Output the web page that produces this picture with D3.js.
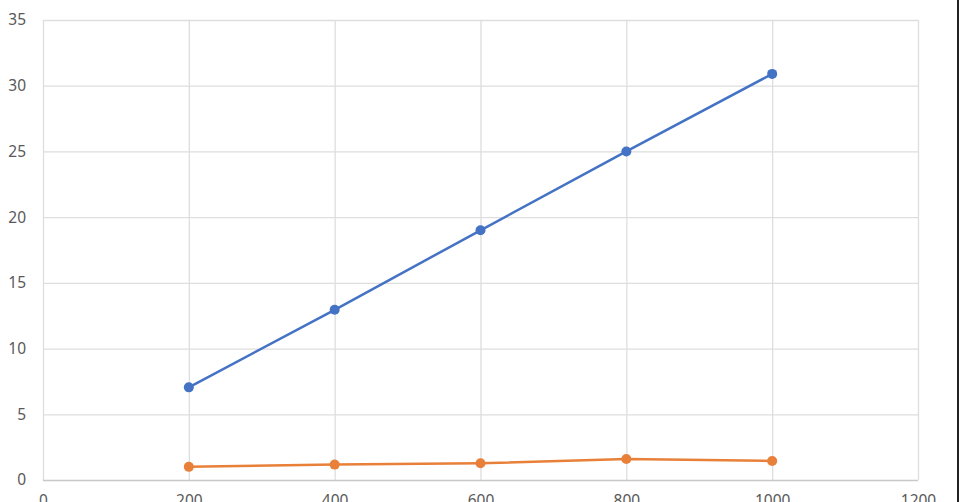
<!DOCTYPE html>
<html><head><meta charset="utf-8">
<script src="https://cdn.jsdelivr.net/npm/d3@7"></script>
<style>html,body{margin:0;padding:0;background:#fff;overflow:hidden}</style>
</head><body>
<svg id="c" width="960" height="502"></svg>
<script>
const xValues = [200, 400, 600, 800, 1000];
const seriesBlue = [7.05, 12.95, 19.0, 25.0, 30.9];
const seriesOrange = [1.0, 1.17, 1.27, 1.6, 1.45];
const xTicks = [0, 200, 400, 600, 800, 1000, 1200];
const yTicks = [0, 5, 10, 15, 20, 25, 30, 35];

const svg = d3.select('#c');
const m = {l: 43, r: 918, t: 20, b: 480};
const x = d3.scaleLinear().domain([0, 1200]).range([m.l, m.r]);
const y = d3.scaleLinear().domain([0, 35]).range([m.b, m.t]);
const font = "'Noto Sans', 'Open Sans', sans-serif";

// grid
svg.append('g').selectAll('line').data(yTicks.filter(d => d > 0)).join('line')
  .attr('x1', m.l).attr('x2', m.r).attr('y1', d => y(d) + 0.5).attr('y2', d => y(d) + 0.5)
  .attr('stroke', '#dedede').attr('stroke-width', 1.3);
svg.append('g').selectAll('line').data(xTicks).join('line')
  .attr('y1', m.t).attr('y2', m.b).attr('x1', d => x(d) + 0.5).attr('x2', d => x(d) + 0.5)
  .attr('stroke', '#dedede').attr('stroke-width', 1.3);
// bottom axis line
svg.append('line').attr('x1', m.l).attr('x2', m.r).attr('y1', y(0) + 0.5).attr('y2', y(0) + 0.5)
  .attr('stroke', '#c8c8c8').attr('stroke-width', 1.5);

// axes labels
const yAxis = d3.axisLeft(y).tickValues(yTicks).tickSize(0).tickPadding(17).tickFormat(d3.format('d'));
const gy = svg.append('g').attr('transform', `translate(${m.l},0)`).call(yAxis);
gy.select('.domain').remove();
gy.selectAll('text').attr('fill', '#595959').style('font-family', font).style('font-size', '15.5px');

const xAxis = d3.axisBottom(x).tickValues(xTicks).tickSize(0).tickPadding(15).tickFormat(d3.format('d'));
const gx = svg.append('g').attr('transform', `translate(0,${m.b})`).call(xAxis);
gx.select('.domain').remove();
gx.selectAll('text').attr('fill', '#595959').style('font-family', font).style('font-size', '15.5px');

const line = d3.line().x((d, i) => x(xValues[i])).y(d => y(d));
const series = [
  {vals: seriesBlue, color: '#4472C4'},
  {vals: seriesOrange, color: '#E8803A'}
];
series.forEach(s => {
  svg.append('path').datum(s.vals).attr('d', line).attr('fill', 'none')
    .attr('stroke', s.color).attr('stroke-width', 2.5);
  svg.append('g').selectAll('circle').data(s.vals).join('circle')
    .attr('cx', (d, i) => x(xValues[i])).attr('cy', d => y(d)).attr('r', 5)
    .attr('fill', s.color);
});

// right border
svg.append('line').attr('x1', 958).attr('x2', 958).attr('y1', 0).attr('y2', 502)
  .attr('stroke', '#222').attr('stroke-width', 2);
</script>
</body></html>
